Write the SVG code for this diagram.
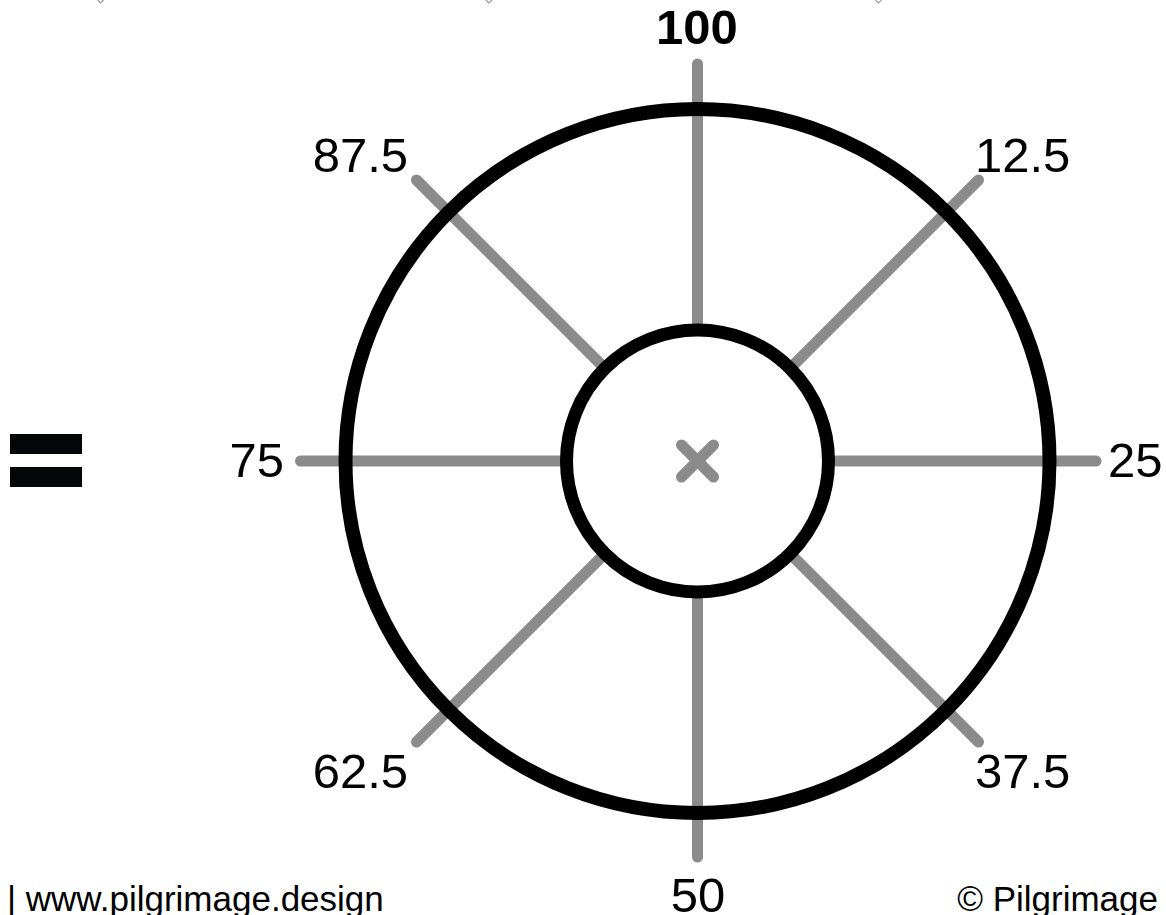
<svg xmlns="http://www.w3.org/2000/svg" width="1166" height="915" viewBox="0 0 1166 915">
<style>
.spoke{stroke:#8b8b8b;stroke-width:11;stroke-linecap:round;fill:none}
.ring{stroke:#000;fill:none}
.lbl{font-family:"Liberation Sans",Arial,sans-serif;font-size:49px;fill:#000}
.foot{font-family:"Liberation Sans",Arial,sans-serif;font-size:35px;fill:#000}
</style>
<rect width="1166" height="915" fill="#fff"/>
<g id="top-marks" fill="none" stroke="#9a9a9a" stroke-width="1.2">
<path d="M97.5 0 L100.5 3 L103.5 0"/>
<path d="M486 0 L489 3 L492 0"/>
<path d="M875.5 0 L878.5 3 L881.5 0"/>
</g>
<g id="equals" fill="#050608">
<rect x="10" y="434" width="72" height="20"/>
<rect x="10" y="467" width="72" height="20"/>
</g>
<g id="connectors">
<line class="spoke" x1="697.5" y1="330" x2="697.5" y2="64"/>
<line class="spoke" x1="697.5" y1="592" x2="697.5" y2="857"/>
<line class="spoke" x1="566" y1="461" x2="300.5" y2="461"/>
<line class="spoke" x1="829" y1="461" x2="1096" y2="461"/>
<line class="spoke" x1="604.5" y1="368" x2="416.5" y2="180"/>
<line class="spoke" x1="790.5" y1="368" x2="978.5" y2="180"/>
<line class="spoke" x1="604.5" y1="554" x2="416.5" y2="742"/>
<line class="spoke" x1="790.5" y1="554" x2="978.5" y2="742"/>
</g>
<g id="outer-circle"><circle class="ring" cx="697.5" cy="461" r="352" stroke-width="14"/></g>
<g id="inner-circle"><circle class="ring" cx="697.5" cy="461" r="131" stroke-width="13"/></g>
<g id="center-x" stroke="#8b8b8b" stroke-width="11" stroke-linecap="round">
<line x1="681.5" y1="445" x2="713.5" y2="477"/>
<line x1="713.5" y1="445" x2="681.5" y2="477"/>
</g>
<g id="labels">
<text class="lbl" x="697" y="44" text-anchor="middle" font-weight="bold" font-size="45">100</text>
<text class="lbl" x="408" y="172" text-anchor="end">87.5</text>
<text class="lbl" x="975" y="172">12.5</text>
<text class="lbl" x="284" y="477" text-anchor="end">75</text>
<text class="lbl" x="1108" y="477">25</text>
<text class="lbl" x="408" y="788" text-anchor="end">62.5</text>
<text class="lbl" x="975" y="788">37.5</text>
<text class="lbl" x="698" y="912" text-anchor="middle">50</text>
</g>
<g id="footer">
<text class="foot" x="7" y="911" font-size="37">| www.pilgrimage.design</text>
<text class="foot" x="1158" y="911" text-anchor="end" font-size="33">© Pilgrimage</text>
</g>
</svg>
